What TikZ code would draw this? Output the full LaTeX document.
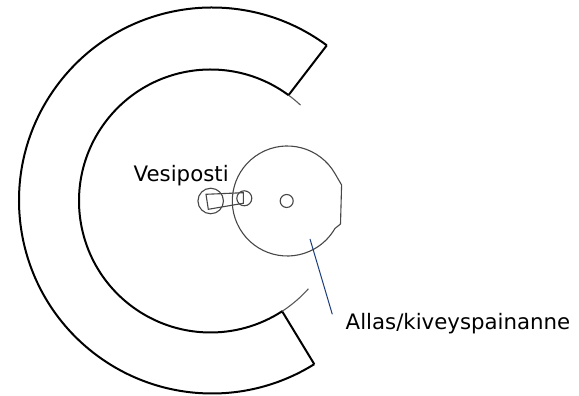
\documentclass[tikz,border=0pt]{standalone}
\usepackage{fontspec}
\usetikzlibrary{calc}
\setmainfont{DejaVu Sans}
\definecolor{navy}{RGB}{25,60,125}
\tikzset{
  wall/.style={draw=black,line width=2pt,line join=round},
  thinline/.style={draw=black!72,line width=1.1pt},
  tailline/.style={draw=black!65,line width=1.1pt},
  leader/.style={draw=navy,line width=1pt},
  lab/.style={font=\fontsize{21.3}{25}\selectfont,inner sep=0pt,text=black,anchor=base west}
}
\begin{document}
\begin{tikzpicture}[x=1pt,y=1pt]
\useasboundingbox (0,0) rectangle (579,396);
\fill[white] (0,0) rectangle (579,396);
\coordinate (oc0) at (212,195.5);
\coordinate (ic0) at (210.5,195);
\coordinate (oa) at ($(oc0)+(53.5:193)$);
\coordinate (od) at ($(oc0)+(302:193)$);
\coordinate (ob) at ($(ic0)+(53.6:131.5)$);
\coordinate (oc) at ($(ic0)+(303:131.5)$);
\draw[wall] (oa) arc[start angle=53.5,end angle=302,radius=193];
\draw[wall] (oa) -- (ob) arc[start angle=53.6,end angle=303,radius=131.5] -- (od);
\draw[tailline] (ob) arc[start angle=53.6,end angle=46.8,radius=131.5];
\draw[tailline] (oc) arc[start angle=303,end angle=318.1,radius=131.5];
\coordinate (pc) at (287.3,195);
\draw[thinline,line join=round] ($(pc)+(30:55)$) arc[start angle=30,end angle=330,radius=55] -- (340.5,172) -- (341.6,211) -- cycle;
\node[thinline,circle,draw,minimum size=13pt,inner sep=0pt] (c1) at (286.7,195) {};
\node[thinline,circle,draw,minimum size=25.5pt,inner sep=0pt] (c2) at (210.7,195) {};
\node[thinline,circle,draw,minimum size=15pt,inner sep=0pt] (c3) at (244.3,197.7) {};
\coordinate (q1) at (206,201.7);
\coordinate (q2) at (243.3,203.3);
\coordinate (q3) at (243.3,192.7);
\coordinate (q4) at (208.3,186.7);
\draw[thinline] (q1) -- (q2) -- (q3) -- (q4) -- cycle;
\coordinate (l1) at (310,157);
\coordinate (l2) at (332.3,81.7);
\draw[leader] (l1) -- (l2);
\node[lab] (t1) at (133.5,214) {Vesiposti};
\node[lab] (t2) at (345.5,66) {Allas/kiveyspainanne};
\end{tikzpicture}
\end{document}
